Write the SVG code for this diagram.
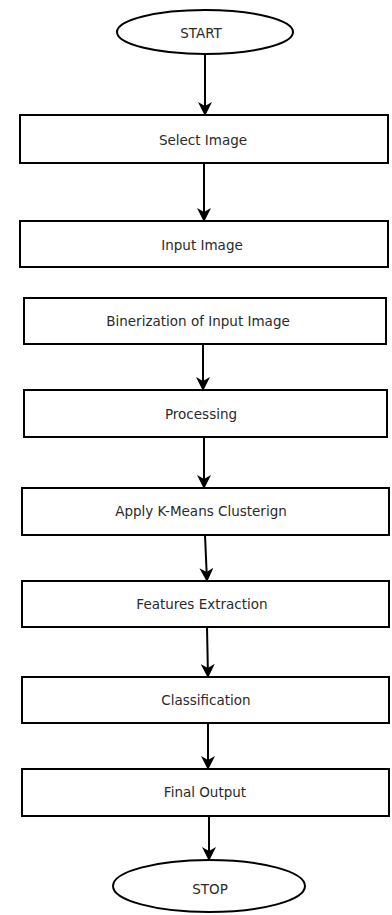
<svg xmlns="http://www.w3.org/2000/svg" width="392" height="915" viewBox="0 0 392 915">
<style>
.shape{fill:#ffffff;stroke:#000000;stroke-width:2}
.lbl{font-family:"DejaVu Sans",Verdana,sans-serif;font-size:13.5px;fill:#2a2a2a;text-anchor:middle}
.edge{stroke:#000000;stroke-width:2;fill:none;marker-end:url(#arr)}
</style>
<defs>
<marker id="arr" viewBox="0 0 14 14" refX="13" refY="7" markerWidth="14" markerHeight="14" markerUnits="userSpaceOnUse" orient="auto">
<path d="M0,0 L14,7 L0,14 L4,7 Z" fill="#000000"/>
</marker>
</defs>
<rect width="392" height="915" fill="#ffffff"/>
<g id="connectors">
<line class="edge" x1="205" y1="55" x2="205" y2="115"/>
<line class="edge" x1="204" y1="163" x2="204" y2="221"/>
<line class="edge" x1="203" y1="344" x2="203" y2="390"/>
<line class="edge" x1="204" y1="437" x2="204" y2="488"/>
<line class="edge" x1="205" y1="535" x2="207" y2="581"/>
<line class="edge" x1="207" y1="627" x2="208" y2="677"/>
<line class="edge" x1="208" y1="723" x2="208" y2="769"/>
<line class="edge" x1="209" y1="816" x2="209" y2="860"/>
</g>
<g id="start">
<ellipse class="shape" cx="205" cy="32" rx="88" ry="22"/>
<text class="lbl" x="201" y="38">START</text>
</g>
<g id="select-image">
<rect class="shape" x="20" y="115" width="368" height="48"/>
<text class="lbl" x="203" y="145">Select Image</text>
</g>
<g id="input-image">
<rect class="shape" x="20" y="221" width="368" height="46"/>
<text class="lbl" x="202" y="250">Input Image</text>
</g>
<g id="binerization">
<rect class="shape" x="24" y="298" width="362" height="46"/>
<text class="lbl" x="198" y="326">Binerization of Input Image</text>
</g>
<g id="processing">
<rect class="shape" x="24" y="390" width="363" height="47"/>
<text class="lbl" x="201" y="419">Processing</text>
</g>
<g id="kmeans">
<rect class="shape" x="22" y="488" width="367" height="47"/>
<text class="lbl" x="201" y="516">Apply K-Means Clusterign</text>
</g>
<g id="features">
<rect class="shape" x="22" y="581" width="367" height="46"/>
<text class="lbl" x="202" y="609">Features Extraction</text>
</g>
<g id="classification">
<rect class="shape" x="22" y="677" width="367" height="46"/>
<text class="lbl" x="206" y="705">Classification</text>
</g>
<g id="final-output">
<rect class="shape" x="22" y="769" width="367" height="47"/>
<text class="lbl" x="205" y="797">Final Output</text>
</g>
<g id="stop">
<ellipse class="shape" cx="209" cy="886" rx="96" ry="26"/>
<text class="lbl" x="210" y="894">STOP</text>
</g>
</svg>
